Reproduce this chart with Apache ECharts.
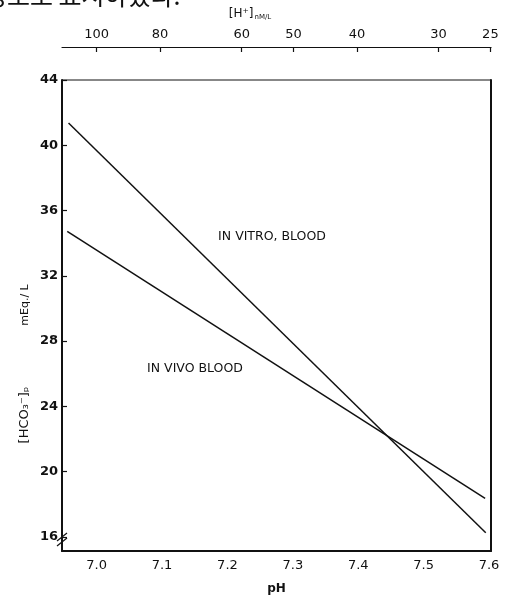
<!DOCTYPE html>
<html>
<head>
<meta charset="utf-8">
<script src="https://cdn.jsdelivr.net/npm/echarts@6/dist/echarts.min.js"></script>
<style>
  html, body { margin: 0; padding: 0; background: #fff; }
  #main { width: 508px; height: 600px; }
</style>
</head>
<body>
<div id="main"></div>
<script>
// values
const phVitro = [6.957, 7.595]
const hco3Vitro = [41.36, 16.25]
const phVivo = [6.955, 7.594]
const hco3Vivo = [34.72, 18.36]

const phTicks = [7.0, 7.1, 7.2, 7.3, 7.4, 7.5, 7.6]
const hco3Ticks = [16, 20, 24, 28, 32, 36, 40, 44]
const hTicks = [100, 80, 60, 50, 40, 30, 25] // nM/L

// [H+] nM/L sits on a pH scale: pH = 9 - log10(H)
const hPositions = hTicks.map(h => 9 - Math.log10(h))

const ink = '#111'
const font = 'DejaVu Sans'

const chart = echarts.init(document.getElementById('main'))

const option = {
  backgroundColor: '#fff',
  animation: false,
  grid: {
    left: 62,
    right: 17,
    top: 80,
    bottom: 46,
    show: true,
    borderColor: ink,
    borderWidth: 1
  },
  xAxis: [
    {
      type: 'value',
      min: 6.947,
      max: 7.603,
      position: 'bottom',
      name: 'pH',
      nameLocation: 'middle',
      nameGap: 32,
      nameTextStyle: { color: ink, fontFamily: font, fontSize: 12, fontWeight: 'bold' },
      axisLine: { show: true, lineStyle: { color: ink, width: 2 } },
      axisTick: { show: false },
      splitLine: { show: false },
      axisLabel: {
        customValues: phTicks,
        margin: 8,
        color: ink,
        fontFamily: font,
        fontSize: 13,
        formatter: v => v.toFixed(1)
      }
    },
    {
      type: 'value',
      min: 6.947,
      max: 7.603,
      position: 'top',
      offset: 33,
      axisLine: { show: true, lineStyle: { color: ink, width: 1.2 } },
      axisTick: { show: true, inside: true, length: 5, customValues: hPositions, lineStyle: { color: ink, width: 1.2 } },
      splitLine: { show: false },
      axisLabel: {
        customValues: hPositions,
        margin: 6,
        color: ink,
        fontFamily: font,
        fontSize: 13,
        formatter: v => String(Math.round(Math.pow(10, 9 - v)))
      }
    }
  ],
  yAxis: [
    {
      type: 'value',
      min: 15.13,
      max: 44,
      position: 'left',
      axisLine: { show: true, lineStyle: { color: ink, width: 2 } },
      axisTick: { show: true, inside: true, length: 5, customValues: hco3Ticks, lineStyle: { color: ink, width: 1.2 } },
      splitLine: { show: false },
      axisLabel: {
        customValues: hco3Ticks,
        margin: 4,
        color: ink,
        fontFamily: font,
        fontSize: 13,
        fontWeight: 'bold'
      }
    },
    {
      type: 'value',
      min: 15.13,
      max: 44,
      position: 'right',
      axisLine: { show: true, lineStyle: { color: ink, width: 2 } },
      axisTick: { show: false },
      axisLabel: { show: false },
      splitLine: { show: false }
    }
  ],
  series: [
    {
      name: 'IN VITRO BLOOD',
      type: 'line',
      xAxisIndex: 0,
      yAxisIndex: 0,
      data: phVitro.map((p, i) => [p, hco3Vitro[i]]),
      showSymbol: false,
      lineStyle: { color: ink, width: 1.5 }
    },
    {
      name: 'IN VIVO BLOOD',
      type: 'line',
      xAxisIndex: 0,
      yAxisIndex: 0,
      data: phVivo.map((p, i) => [p, hco3Vivo[i]]),
      showSymbol: false,
      lineStyle: { color: ink, width: 1.5 }
    }
  ],
  graphic: [
    // cut-off line of the surrounding Korean text
    {
      type: 'text',
      left: -16,
      top: -17,
      style: { text: '정도로 표시하였다.', font: '25px "Noto Sans CJK KR"', fill: ink }
    },
    {
      type: 'text',
      x: 250,
      y: 14,
      style: {
        text: '{a|[H⁺]}{b|nM/L}',
        align: 'center',
        verticalAlign: 'middle',
        rich: {
          a: { fontFamily: font, fontSize: 12, fill: ink },
          b: { fontFamily: font, fontSize: 7, fill: ink, padding: [6, 0, 0, 1] }
        }
      }
    },
    {
      type: 'text',
      x: 272,
      y: 237,
      style: { text: 'IN VITRO, BLOOD', align: 'center', verticalAlign: 'middle', fontFamily: font, fontSize: 12.5, fill: ink }
    },
    {
      type: 'text',
      x: 195,
      y: 369,
      style: { text: 'IN VIVO BLOOD', align: 'center', verticalAlign: 'middle', fontFamily: font, fontSize: 12.5, fill: ink }
    },
    {
      type: 'text',
      x: 25,
      y: 305,
      rotation: Math.PI / 2,
      style: { text: 'mEq./ L', align: 'center', verticalAlign: 'middle', fontFamily: font, fontSize: 11, fill: ink }
    },
    {
      type: 'text',
      x: 25,
      y: 415,
      rotation: Math.PI / 2,
      style: { text: '[HCO₃⁻]ₚ', align: 'center', verticalAlign: 'middle', fontFamily: font, fontSize: 13, fill: ink }
    },
    // axis break marks near 16
    {
      type: 'line',
      shape: { x1: 57, y1: 541, x2: 67, y2: 533 },
      style: { stroke: ink, lineWidth: 1.3 }
    },
    {
      type: 'line',
      shape: { x1: 57, y1: 546, x2: 67, y2: 538 },
      style: { stroke: ink, lineWidth: 1.3 }
    }
  ]
}

chart.setOption(option)
</script>
</body>
</html>
